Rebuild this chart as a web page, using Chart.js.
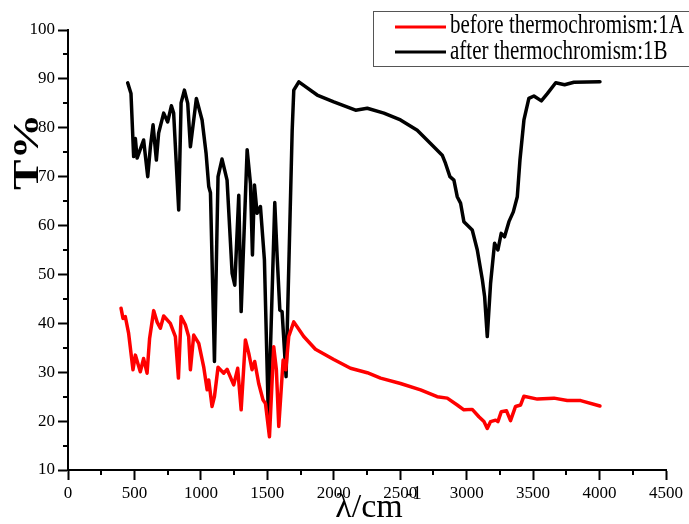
<!DOCTYPE html>
<html>
<head>
<meta charset="utf-8">
<title>IR spectra</title>
<script src="https://cdn.jsdelivr.net/npm/chart.js@4.4.0/dist/chart.umd.min.js"></script>
<style>
    body { margin: 0; background: #fff; }
    #wrap { width: 689px; height: 524px; }
</style>
</head>
<body>
<div id="wrap"><canvas id="irChart" width="689" height="524"></canvas></div>
<script>
var labelA = "before thermochromism:1A";
var labelB = "after thermochromism:1B";

// wavenumber (cm-1) and transmittance
var waveA = [399,414,431,456,489,507,544,569,595,614,645,670,695,720,770,808,831,851,883,908,921,946,984,1021,1047,1059,1084,1102,1129,1172,1197,1247,1277,1303,1335,1360,1385,1405,1435,1468,1486,1516,1548,1568,1586,1619,1639,1661,1699,1774,1862,2000,2126,2252,2352,2502,2653,2778,2854,2929,2979,3042,3092,3130,3155,3180,3218,3235,3260,3300,3330,3368,3406,3431,3532,3657,3757,3858,4003];
var transA = [43.1,41,41.4,38,30.5,33.5,30.1,32.8,29.8,36.9,42.6,40.3,39,41.5,40,37.3,28.8,41.4,39.7,37.3,30.5,37.6,35.9,31.1,26.4,28.4,23,25,31,29.8,30.6,27.4,30.8,22.3,36.6,33.9,30.5,32.2,27.7,24.3,23.6,16.8,35.2,30.5,18.9,32.5,30.5,37.3,40.3,37.3,34.7,32.6,30.8,29.9,28.8,27.7,26.4,25,24.7,23.3,22.3,22.4,20.9,19.9,18.5,19.9,20.2,19.9,21.9,22.1,20.1,23,23.3,25.1,24.5,24.7,24.2,24.2,23.1];

var waveB = [449,474,494,507,520,569,600,620,640,665,682,720,750,778,795,833,851,876,901,921,966,1009,1039,1059,1072,1102,1129,1159,1197,1235,1255,1285,1303,1348,1373,1388,1403,1423,1448,1478,1508,1556,1574,1594,1611,1641,1687,1699,1737,1787,1875,2000,2164,2252,2377,2502,2628,2728,2816,2841,2874,2904,2929,2954,2979,3042,3080,3118,3135,3155,3180,3210,3235,3260,3285,3318,3351,3381,3401,3431,3468,3506,3562,3607,3670,3737,3807,4003];
var transB = [89.2,87,74.1,77.8,73.8,77.5,70,76.1,80.6,73.4,78.9,83,81.2,84.5,83,63.2,85.1,87.7,85,76.1,86,81.6,74.8,68,66.7,32.2,70,73.6,69.3,50.2,47.8,66.2,42.4,75.5,68.6,54,68.3,62.5,63.9,53,20.5,64.7,53.6,42.7,42.4,29.1,79.5,87.7,89.4,88.4,86.7,85.3,83.6,84,83,81.6,79.5,76.8,74.4,72.7,70,69.3,65.9,64.6,60.8,59.1,55,48.9,45.5,37.3,48.2,56.4,55,58.4,57.7,60.8,62.8,65.9,73.4,81.6,86,86.5,85.5,87,89.2,88.8,89.3,89.4];

var xMinorTicks = [250,750,1250,1750,2250,2750,3250,3750,4250];
var yMinorTicks = [15,25,35,45,55,65,75,85,95];

var serif = "'Liberation Serif', 'Times New Roman', serif";

function toPoints(xs, ys){
    var pts = [];
    for (var i = 0; i < xs.length; i++){
        pts.push({x: xs[i], y: ys[i]});
    }
    return pts;
}

// minor ticks, axis titles and the boxed legend
var extrasPlugin = {
    id: 'extras',
    afterDraw: function(chart){
        var ctx = chart.ctx;
        var xs = chart.scales.x;
        var ys = chart.scales.y;
        var bottom = chart.chartArea.bottom;
        var left = chart.chartArea.left;

        ctx.save();
        ctx.strokeStyle = '#000';
        ctx.lineWidth = 2;
        xMinorTicks.forEach(function(v){
            var px = Math.round(xs.getPixelForValue(v));
            ctx.beginPath();
            ctx.moveTo(px, bottom);
            ctx.lineTo(px, bottom + 5);
            ctx.stroke();
        });
        yMinorTicks.forEach(function(v){
            var py = Math.round(ys.getPixelForValue(v));
            ctx.beginPath();
            ctx.moveTo(left, py);
            ctx.lineTo(left - 5, py);
            ctx.stroke();
        });

        // x title
        ctx.fillStyle = '#000';
        ctx.font = "34px " + serif;
        ctx.textAlign = 'center';
        ctx.textBaseline = 'alphabetic';
        ctx.fillText("λ/cm", 369, 517);
        ctx.font = "19px " + serif;
        ctx.textAlign = 'left';
        ctx.fillText("-1", 406, 499);

        // y title, rotated and a bit stretched like the original
        ctx.save();
        ctx.translate(38, 152);
        ctx.rotate(-Math.PI / 2);
        ctx.scale(1.27, 1);
        ctx.font = "bold 36px " + serif;
        ctx.textAlign = 'center';
        ctx.fillText("T%", 0, 0);
        ctx.restore();

        // legend box
        ctx.lineWidth = 1;
        ctx.strokeStyle = '#555';
        ctx.strokeRect(373.5, 11.5, 330, 55);
        var rows = [[chart.data.datasets[0], 27, 33], [chart.data.datasets[1], 52, 59]];
        rows.forEach(function(r){
            ctx.strokeStyle = r[0].borderColor;
            ctx.lineWidth = 3;
            ctx.beginPath();
            ctx.moveTo(395, r[1]);
            ctx.lineTo(446, r[1]);
            ctx.stroke();
            ctx.save();
            ctx.translate(450, r[2]);
            ctx.scale(1, 1.25);
            ctx.fillStyle = '#000';
            ctx.font = "21px " + serif;
            ctx.textAlign = 'left';
            ctx.fillText(r[0].label, 0, 0);
            ctx.restore();
        });
        ctx.restore();
    }
};

function plainNumber(value){
    return String(value);
}

function drawChart(){
    new Chart(document.getElementById('irChart'), {
        type: 'line',
        data: {
            datasets: [{
                label: labelA,
                data: toPoints(waveA, transA),
                borderColor: '#ff0000',
                borderWidth: 3.5,
                borderJoinStyle: 'round',
                borderCapStyle: 'round',
                pointRadius: 0,
                tension: 0
            }, {
                label: labelB,
                data: toPoints(waveB, transB),
                borderColor: '#000000',
                borderWidth: 3.5,
                borderJoinStyle: 'round',
                borderCapStyle: 'round',
                pointRadius: 0,
                tension: 0
            }]
        },
        options: {
            responsive: false,
            animation: false,
            layout: {
                padding: {left: 0, top: 30, right: 23, bottom: 0}
            },
            plugins: {
                legend: { display: false },
                tooltip: { enabled: false }
            },
            scales: {
                x: {
                    type: 'linear',
                    min: 0,
                    max: 4500,
                    afterFit: function(scale){ scale.height = 54; },
                    ticks: {
                        stepSize: 500,
                        color: '#000',
                        padding: 3,
                        maxRotation: 0,
                        callback: plainNumber,
                        font: { family: serif, size: 17 }
                    },
                    grid: {
                        drawOnChartArea: false,
                        tickLength: 10,
                        tickWidth: 2,
                        tickColor: '#000'
                    },
                    border: { color: '#000', width: 2 }
                },
                y: {
                    min: 10,
                    max: 100,
                    afterFit: function(scale){ scale.width = 68; },
                    ticks: {
                        stepSize: 10,
                        color: '#000',
                        padding: 3,
                        callback: plainNumber,
                        font: { family: serif, size: 17 }
                    },
                    grid: {
                        drawOnChartArea: false,
                        tickLength: 10,
                        tickWidth: 2,
                        tickColor: '#000'
                    },
                    border: { color: '#000', width: 2 }
                }
            }
        },
        plugins: [extrasPlugin]
    });
}

document.addEventListener("DOMContentLoaded", function(){
    drawChart();
});
</script>
</body>
</html>
